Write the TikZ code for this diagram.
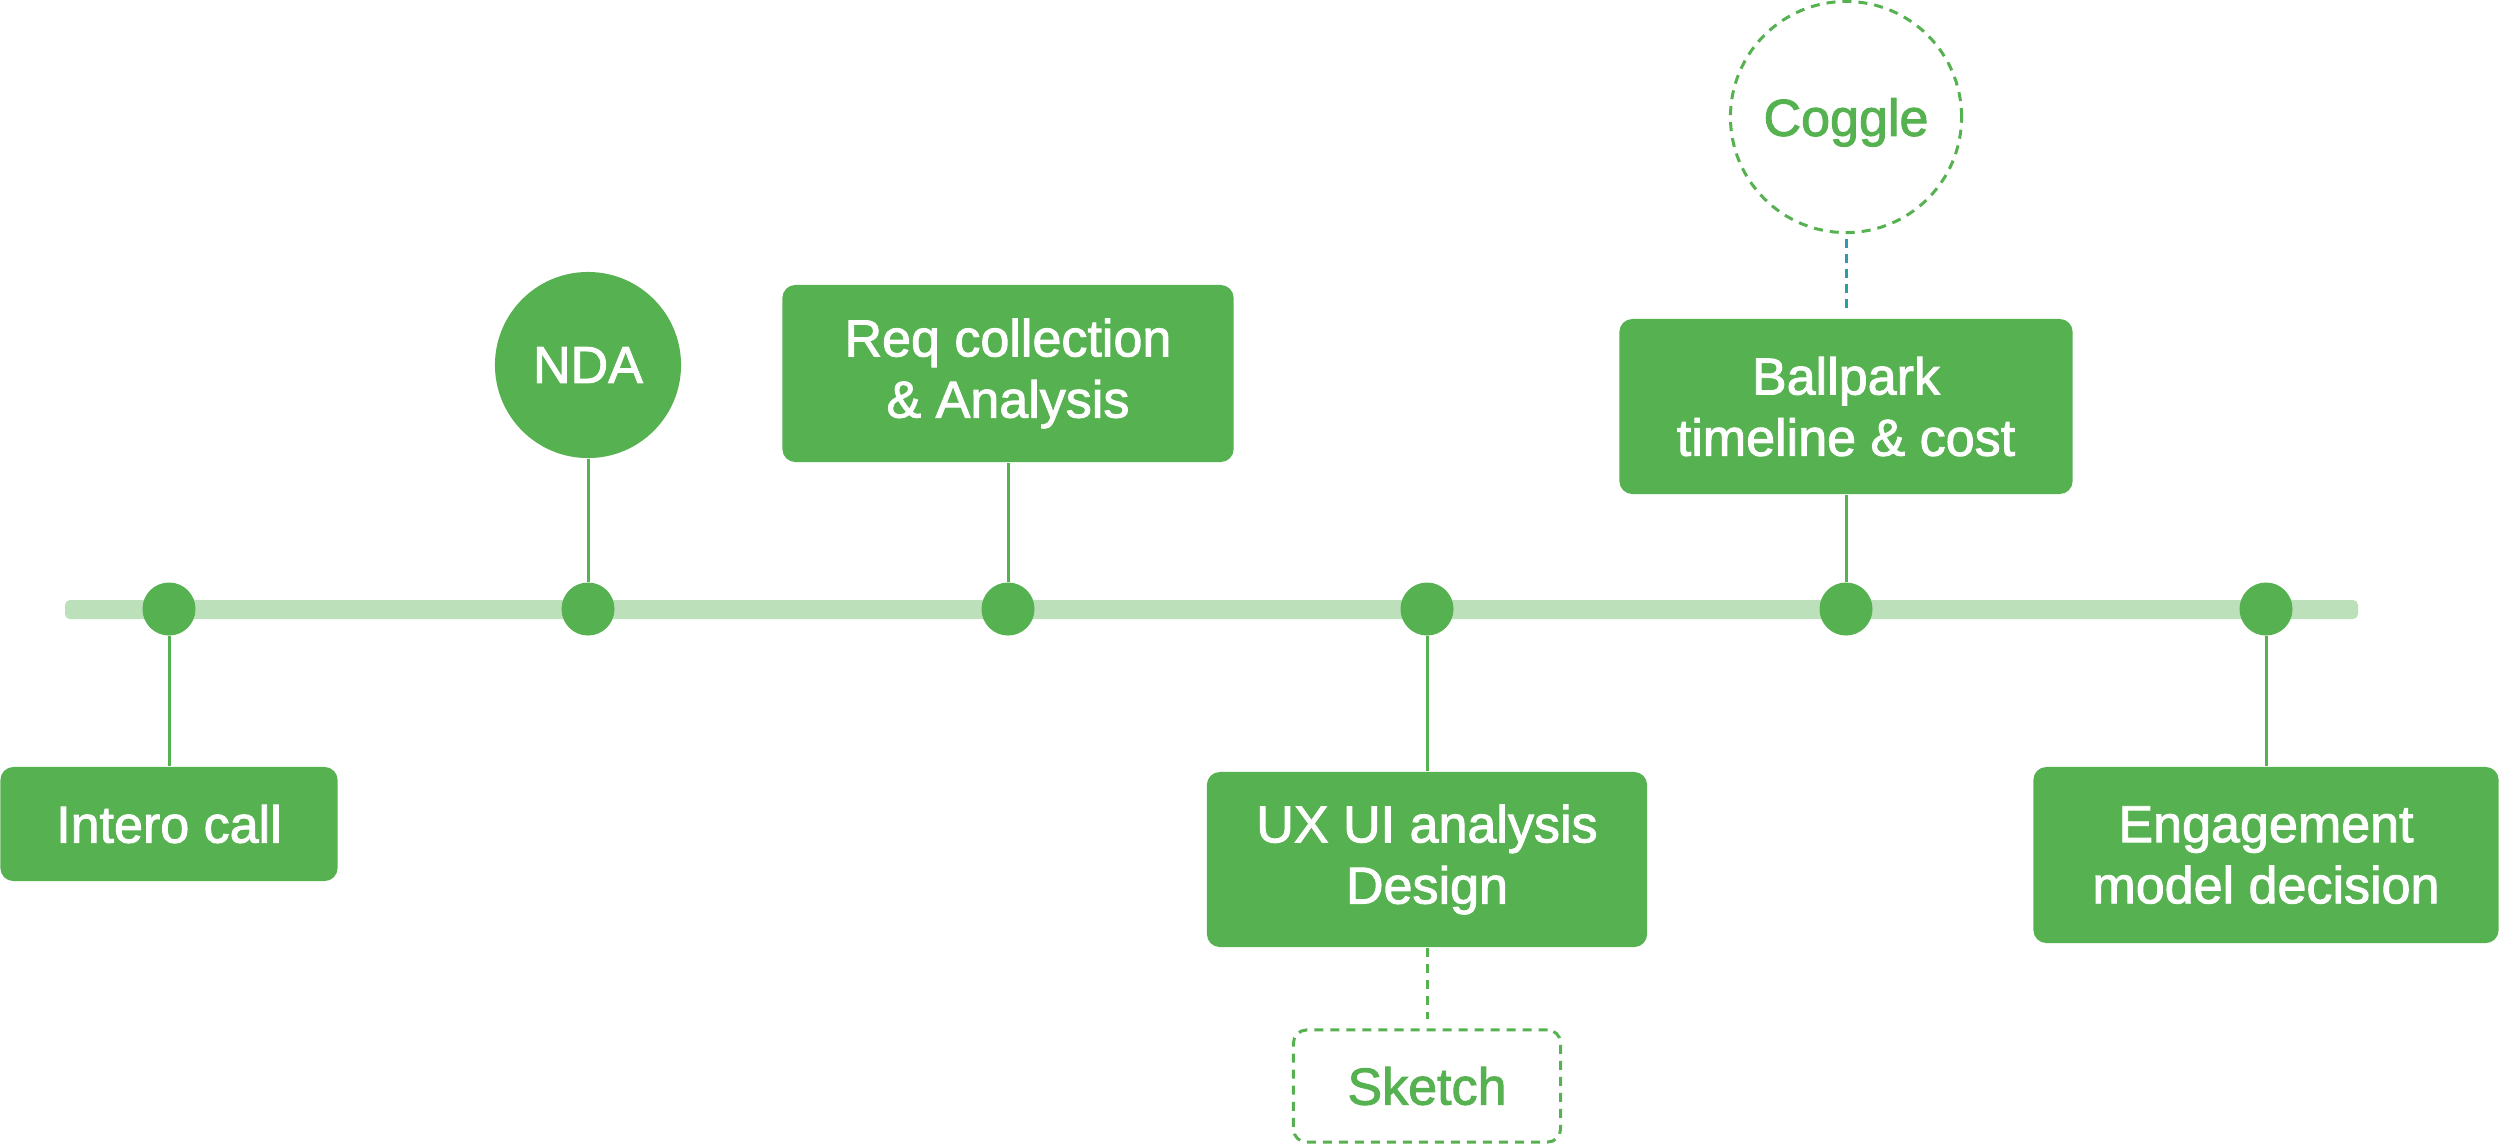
\documentclass[tikz,border=0pt]{standalone}
\usepackage{fontspec}
\setmainfont{Liberation Sans}
\newfontfamily\stepfont[FakeBold=1.8]{Liberation Sans}
\usepackage{xcolor}
\usetikzlibrary{positioning}

\definecolor{tlgreen}{HTML}{56B150}
\definecolor{tlbar}{HTML}{BCE0BA}
\definecolor{tlteal}{HTML}{2C9DA8}

\tikzset{
  stepbox/.style={fill=tlgreen, rounded corners=0.13cm, text=white, align=center, inner sep=0pt},
  sidebox/.style={draw=tlgreen, line width=0.03cm, dash pattern=on 0.09cm off 0.07cm,
    rounded corners=0.13cm, text=tlgreen, align=center, inner sep=0pt},
  dot/.style={circle, fill=tlgreen, minimum size=0.53cm, inner sep=0pt},
  stem/.style={draw=tlgreen, line width=0.03cm},
}

\begin{document}
\begin{tikzpicture}[x=0.01cm, y=-0.01cm, font=\stepfont\fontsize{14.8pt}{17.4pt}\selectfont]
    \useasboundingbox (0,0) rectangle (2500,1144);

    % timeline bar
    \fill[tlbar, rounded corners=0.05cm] (65,600) rectangle (2358,619);

    % milestones on the bar
    \foreach \x [count=\i] in {169,588,1008,1427,1846,2266} {
      \node[dot] (d\i) at (\x,609) {};
    }

    % steps
    \node[stepbox, minimum width=3.37cm, minimum height=1.14cm] (intero) at (169,824) {Intero call};
    \node[circle, fill=tlgreen, text=white, minimum size=1.86cm, inner sep=0pt] (nda) at (588,365) {NDA};
    \node[stepbox, minimum width=4.51cm, minimum height=1.77cm] (req) at (1008,373.5) {Req collection\\\& Analysis};
    \node[stepbox, minimum width=4.40cm, minimum height=1.75cm] (uxui) at (1427,859.5) {UX UI analysis\\Design};
    \node[stepbox, minimum width=4.53cm, minimum height=1.75cm] (ballpark) at (1846,406.5) {Ballpark\\timeline \& cost};
    \node[stepbox, minimum width=4.65cm, minimum height=1.76cm] (engage) at (2266,855) {Engagement\\model decision};

    % tools
    \node[sidebox, minimum width=2.67cm, minimum height=1.12cm] (sketch) at (1427,1086) {Sketch};
    \node[sidebox, circle, minimum size=2.31cm, text depth=0pt] (coggle) at (1846,117) {Coggle};

    % stems
    \draw[stem] (intero) -- (d1);
    \draw[stem] (nda) -- (d2);
    \draw[stem] (req) -- (d3);
    \draw[stem] (uxui) -- (d4);
    \draw[stem] (ballpark) -- (d5);
    \draw[stem] (engage) -- (d6);
    \draw[stem, dash pattern=on 0.09cm off 0.07cm, shorten >=0.09cm] (uxui) -- (sketch);
    \draw[draw=tlteal, line width=0.03cm, dash pattern=on 0.09cm off 0.06cm, shorten <=0.05cm, shorten >=0.06cm] (coggle) -- (ballpark);
\end{tikzpicture}
\end{document}
